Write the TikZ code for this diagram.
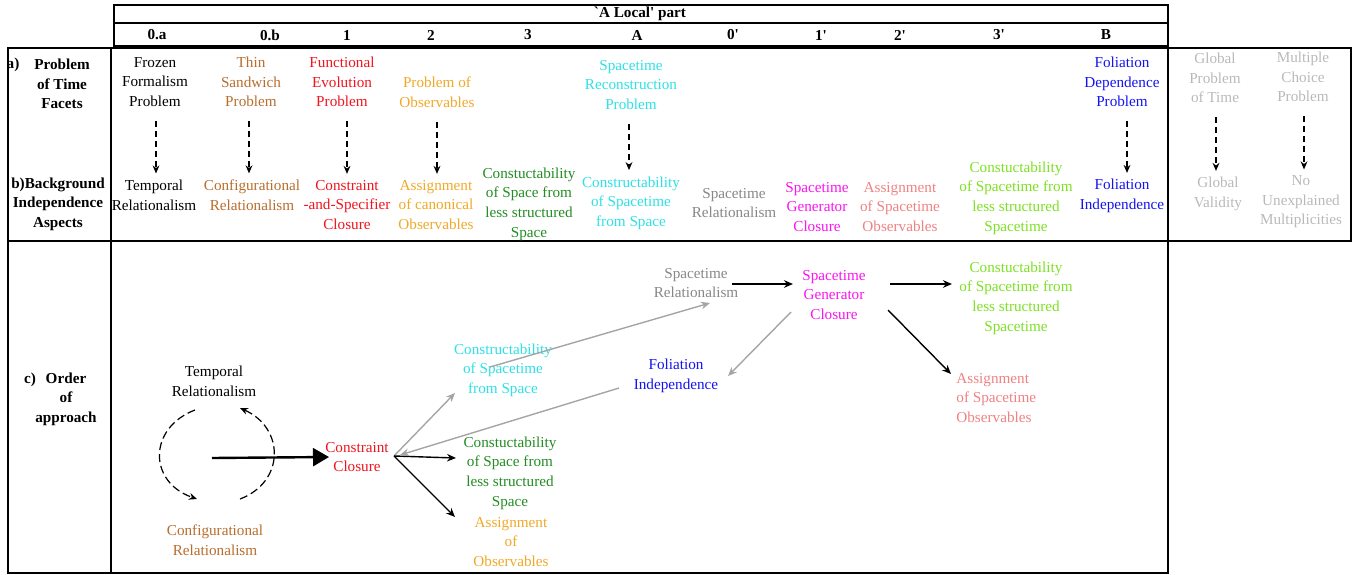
\documentclass[tikz,border=0pt]{standalone}
\usepackage{fontspec}
\setmainfont{Liberation Serif}
\usetikzlibrary{arrows.meta}
\definecolor{cred}{RGB}{240,20,30}
\definecolor{cbrown}{RGB}{183,110,45}
\definecolor{corange}{RGB}{240,168,40}
\definecolor{ccyan}{RGB}{45,225,230}
\definecolor{cdgreen}{RGB}{35,140,35}
\definecolor{cgray}{RGB}{135,135,135}
\definecolor{cmag}{RGB}{250,20,240}
\definecolor{csalmon}{RGB}{238,130,130}
\definecolor{clgreen}{RGB}{125,225,35}
\definecolor{cblue}{RGB}{20,20,240}
\definecolor{clgray}{RGB}{185,185,185}
\definecolor{carrgray}{RGB}{165,165,165}
\newcommand{\fsz}{\fontsize{7.6}{9.8}\selectfont}
\begin{document}
\begin{tikzpicture}[x=0.5pt,y=-0.5pt,
  txt/.style={align=center,font=\fsz,inner sep=0pt},
  bld/.style={align=center,font=\fsz\bfseries,inner sep=0pt},
  frame/.style={line width=1.2pt},
  dashar/.style={line width=0.7pt,dash pattern=on 3pt off 2pt,-{Stealth[length=4pt,width=3.4pt]}},
  dasharc/.style={line width=0.6pt,dash pattern=on 4pt off 2pt,-{Stealth[length=4pt,width=3.4pt]}},
  blk/.style={line width=0.7pt,-{Stealth[length=4.5pt,width=3.8pt]}},
  gry/.style={blk,draw=carrgray},
  thick arrow/.style={line width=1.2pt,-{Triangle[length=8pt,width=9pt]}}
]
\useasboundingbox (0,0) rectangle (1356,574);
% frames
\draw[frame] (114,5) rectangle (1168,46);
\draw[frame] (114,23) -- (1168,23);
\draw[frame] (8,48) rectangle (1168,573);
\draw[frame] (8,241) -- (1168,241);
\draw[frame] (111,48) -- (111,573);
\draw[frame] (1168,48) rectangle (1351,241);
% header
\node[bld] (hdr) at (640,14) {\textasciigrave A Local\textquotesingle{} part};
\node[bld] (h0a) at (157,35) {0.a};
\node[bld] (h0b) at (270,35) {0.b};
\node[bld] (h1) at (347,35) {1};
\node[bld] (h2) at (431,35) {2};
\node[bld] (h3) at (528,35) {3};
\node[bld] (hA) at (637,35) {A};
\node[bld] (h0p) at (733,35) {0\textquotesingle};
\node[bld] (h1p) at (821,35) {1\textquotesingle};
\node[bld] (h2p) at (900,35) {2\textquotesingle};
\node[bld] (h3p) at (999,35) {3\textquotesingle};
\node[bld] (hB) at (1106,35) {B};
% left labels
\node[bld] (la) at (13,65) {a)};
\node[bld] (lat) at (62,84) {Problem\\of Time\\Facets};
\node[bld] (lb) at (58,204) {b)Background\\Independence\\Aspects};
\node[bld] (lc) at (30,380) {c)};
\node[bld] (lct) at (66,399) {Order\\of\\approach};
% row a
\node[txt] (fa0a) at (155,82) {Frozen\\Formalism\\Problem};
\node[txt,text=cbrown] (fa0b) at (251,82) {Thin\\Sandwich\\Problem};
\node[txt,text=cred] (fa1) at (342,82) {Functional\\Evolution\\Problem};
\node[txt,text=corange] (fa2) at (437,92) {Problem of\\Observables};
\node[txt,text=ccyan] (faA) at (631,85) {Spacetime\\Reconstruction\\Problem};
\node[txt,text=cblue] (faB) at (1122,82) {Foliation\\Dependence\\Problem};
\node[txt,text=clgray] (fag) at (1215,78) {Global\\Problem\\of Time};
\node[txt,text=clgray] (fam) at (1303,77) {Multiple\\Choice\\Problem};
% row b
\node[txt] (ba0a) at (154,195) {Temporal\\Relationalism};
\node[txt,text=cbrown] (ba0b) at (252,195) {Configurational\\Relationalism};
\node[txt,text=cred] (ba1) at (347,205) {Constraint\\-and-Specifier\\Closure};
\node[txt,text=corange] (ba2) at (436,205) {Assignment\\of canonical\\Observables};
\node[txt,text=cdgreen] (ba3) at (529,204) {Constuctability\\of Space from\\less structured\\Space};
\node[txt,text=ccyan] (baA) at (631,203) {Constructability\\of Spacetime\\from Space};
\node[txt,text=cgray] (bb0) at (734,203) {Spacetime\\Relationalism};
\node[txt,text=cmag] (bb1) at (817,207) {Spacetime\\Generator\\Closure};
\node[txt,text=csalmon] (bb2) at (900,207) {Assignment\\of Spacetime\\Observables};
\node[txt,text=clgreen] (bb3) at (1016,198) {Constuctability\\of Spacetime from\\less structured\\Spacetime};
\node[txt,text=cblue] (bbB) at (1122,196) {Foliation\\Independence};
\node[txt,text=clgray] (bg) at (1218,194) {Global\\Validity};
\node[txt,text=clgray] (bm) at (1301,202) {No\\Unexplained\\Multiplicities};
% dashed arrows a -> b
\foreach \a/\b/\x in {fa0a/ba0a/156, fa0b/ba0b/249, fa1/ba1/347, fa2/ba2/437, faA/baA/629, faB/bbB/1127, fag/bg/1216, fam/bm/1304}
  \draw[dashar] (\a.south -| \x,0) ++(0,14) -- ([yshift=3pt]\b.north -| \x,0);
% row c nodes
\node[txt] (ctr) at (214,381) {Temporal\\Relationalism};
\node[txt,text=cbrown] (ccr) at (215,540) {Configurational\\Relationalism};
\node[txt,text=cred] (ccc) at (357,457) {Constraint\\Closure};
\node[txt,text=ccyan] (ccs) at (503,370) {Constructability\\of Spacetime\\from Space};
\node[txt,text=cdgreen] (csp) at (510,473) {Constuctability\\of Space from\\less structured\\Space};
\node[txt,text=corange] (cob) at (511,542) {Assignment\\of\\Observables};
\node[txt,text=cgray] (csr) at (696,283) {Spacetime\\Relationalism};
\node[txt,text=cmag] (csg) at (834,295) {Spacetime\\Generator\\Closure};
\node[txt,text=cblue] (cfi) at (676,376) {Foliation\\Independence};
\node[txt,text=clgreen] (cst) at (1016,298) {Constuctability\\of Spacetime from\\less structured\\Spacetime};
\node[txt,text=csalmon,align=left,anchor=west] (cso) at (956,398) {Assignment\\of Spacetime\\Observables};
% connector end points
\coordinate (tr-a) at (195,410);
\coordinate (cr-a) at (197,499);
\coordinate (cr-b) at (240,499);
\coordinate (tr-b) at (240,408);
\coordinate (rel) at (212,458);
\coordinate (ccc-in) at (329,457);
\coordinate (hub) at (394,456);
\coordinate (hub-in) at (400,455);
\coordinate (ccs-in) at (455,393);
\coordinate (csp-in) at (456,458);
\coordinate (cob-in) at (455,517);
\coordinate (ccs-out) at (490,367);
\coordinate (csr-in) at (710,303);
\coordinate (csr-out) at (732,284);
\coordinate (csg-in) at (793,284);
\coordinate (csg-out1) at (791,312);
\coordinate (cfi-in) at (728,376);
\coordinate (cfi-out) at (619,388);
\coordinate (csg-out2) at (890,284);
\coordinate (cst-in) at (952,284);
\coordinate (csg-out3) at (888,310);
\coordinate (cso-in) at (951,374);
% row c connectors
\draw[dasharc] (tr-a) .. controls (148,428) and (148,482) .. (cr-a);
\draw[dasharc] (cr-b) .. controls (285,482) and (285,428) .. (tr-b);
\draw[thick arrow] (rel) -- (ccc-in);
\draw[gry] (hub) -- (ccs-in);
\draw[blk] (hub) -- (csp-in);
\draw[blk] (hub) -- (cob-in);
\draw[gry] (cfi-out) -- (hub-in);
\draw[gry] (ccs-out) -- (csr-in);
\draw[blk] (csr-out) -- (csg-in);
\draw[gry] (csg-out1) -- (cfi-in);
\draw[blk] (csg-out2) -- (cst-in);
\draw[blk] (csg-out3) -- (cso-in);
\end{tikzpicture}
\end{document}
